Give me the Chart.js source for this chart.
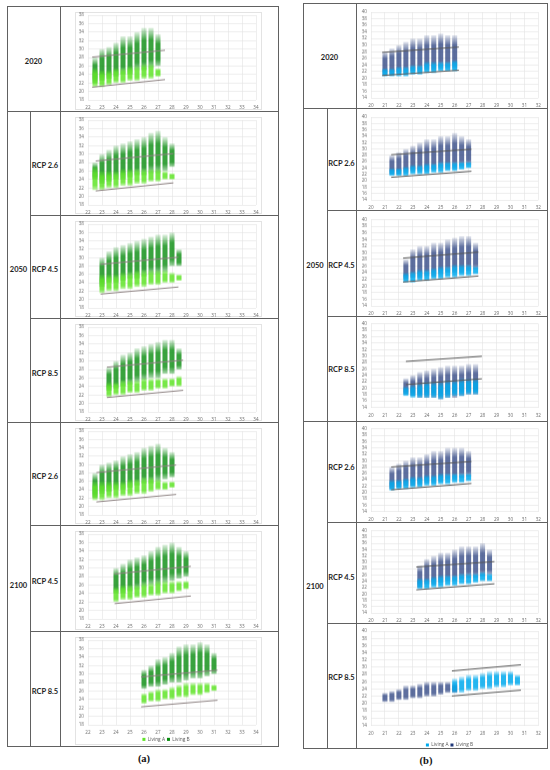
<!DOCTYPE html>
<html>
<head>
<meta charset="utf-8">
<script src="https://cdn.jsdelivr.net/npm/chart.js@4.4.1/dist/chart.umd.min.js"></script>
<style>
html, body { margin: 0; padding: 0; background: #fff; }
#page { position: relative; width: 550px; height: 770px; overflow: hidden; font-family: Lato, "Open Sans", sans-serif; }
.ln { position: absolute; background: #616161; }
.lbl { position: absolute; transform: translate(-50%, -50%); font-weight: 700; font-size: 7.5px; color: #1e1e1e; white-space: nowrap; }
.cap { position: absolute; transform: translate(-50%, -50%); font-family: "Liberation Serif", serif; font-weight: 700; font-size: 10.5px; color: #111; }
.box { position: absolute; border: 1px solid #e3e3e3; box-sizing: border-box; }
canvas { position: absolute; }
</style>
</head>
<body>
<div id="page"></div>
<script>
// labels
const years = ['2020', '2050', '2100'];
const scenarios = ['RCP 2.6', 'RCP 4.5', 'RCP 8.5'];
const seriesNames = ['Living A', 'Living B'];

// axis ticks
const aXTicks = [22, 23, 24, 25, 26, 27, 28, 29, 30, 31, 32, 33, 34];
const aYTicks = [18, 20, 22, 24, 26, 28, 30, 32, 34, 36, 38];
const bXTicks = [20, 21, 22, 23, 24, 25, 26, 27, 28, 29, 30, 31, 32];
const bYTicks = [14, 16, 18, 20, 22, 24, 26, 28, 30, 32, 34, 36, 38, 40];

// point clouds: [outdoor temp, lowest indoor, highest indoor]
// comfort limits: [outdoor temp, lower limit, upper limit] at both ends
const a2020A = [[22.5,21,25.5],[23,21,25],[23.5,21.5,25],[24,22,25.5],[24.5,22,25.5],[25,22.5,26],[25.5,22.5,26],[26,23,26.5],[26.5,23,26.5],[27,23.5,25.5]];
const a2020B = [[22.5,22,28],[23,22.5,30],[23.5,23,30.5],[24,23.5,31.5],[24.5,24,33],[25,24,33],[25.5,25,34],[26,25,35],[26.5,25.5,35],[27,26,33.5]];
const a2020Band = [[22.3,21.0,28.1],[27.5,22.8,29.7]];

const a2050r26A = [[22.5,21.5,27],[23,21.5,26],[23.5,22,26],[24,22,26],[24.5,22.5,26.5],[25,22.5,26.5],[25.5,23,26.5],[26,23,26.5],[26.5,23.5,26.5],[27,23.5,26.5],[27.5,24,26],[28,24,25.5]];
const a2050r26B = [[22.5,24,28],[23,23,30],[23.5,23.5,31],[24,24,32],[24.5,24,32.5],[25,24.5,33],[25.5,25,33.5],[26,25,34],[26.5,25.5,35],[27,25.5,35.5],[27.5,26,34],[28,27,32.5]];
const a2050r26Band = [[22.55,21.3,28.35],[28.1,23.2,30.1]];

const a2050r45A = [[23,21.5,26],[23.5,22,26],[24,22,26],[24.5,22.5,26.5],[25,22.5,26.5],[25.5,23,27],[26,23,27],[26.5,23.5,27],[27,23.5,27],[27.5,24,27],[28,24,26.5],[28.5,24.5,26]];
const a2050r45B = [[23,23,30],[23.5,24,31.5],[24,24,32.5],[24.5,24.5,33],[25,25,33.5],[25.5,25,34],[26,25.5,34.5],[26.5,26,35],[27,26,35.5],[27.5,26.5,35.5],[28,28,36],[28.5,28,32]];
const a2050r45Band = [[22.9,21.3,28.4],[28.46,23.0,30.1]];

const a2050r85A = [[23.5,21.5,25],[24,22,25],[24.5,22,25.5],[25,22.5,25.5],[25.5,22.5,25.5],[26,23,26],[26.5,23,26],[27,23.5,26],[27.5,23.5,26],[28,24,26],[28.5,24,26.5]];
const a2050r85B = [[23.5,23,28.5],[24,23.5,30],[24.5,24,31.5],[25,24.5,32],[25.5,25,33],[26,25.5,33.5],[26.5,26,34],[27,26,34.5],[27.5,27,35],[28,27,35],[28.5,28,33]];
const a2050r85Band = [[23.35,21.4,28.55],[28.8,23.1,30.2]];

const a2100r26A = [[22.5,21.5,26],[23,21.5,26],[23.5,22,26],[24,22,26],[24.5,22.5,26],[25,22.5,26.5],[25.5,23,26.5],[26,23,27],[26.5,23.5,27],[27,24,26.5],[27.5,24,26],[28,24.5,26]];
const a2100r26B = [[22.5,22,28],[23,23,30],[23.5,23.5,30.5],[24,24,31],[24.5,24,32],[25,24.5,32.5],[25.5,25,33],[26,25.5,34],[26.5,25.5,34.5],[27,26,35],[27.5,26.5,34],[28,27,33]];
const a2100r26Band = [[22.6,21.1,28.1],[28.3,22.9,29.9]];

const a2100r45A = [[24,22,25.5],[24.5,22.5,26],[25,22.5,26],[25.5,23,26],[26,23,26.5],[26.5,23.5,26.5],[27,23.5,27],[27.5,24,27],[28,24,27],[28.5,24.5,27],[29,25,27]];
const a2100r45B = [[24,24,30],[24.5,24,31],[25,24.5,32],[25.5,25,32.5],[26,25.5,33],[26.5,26,34],[27,26,35],[27.5,26.5,35.5],[28,27,36],[28.5,27.5,35],[29,28,34]];
const a2100r45Band = [[23.9,21.6,28.6],[29.35,23.4,30.4]];

const a2100r85A = [[26,23,25.5],[26.5,23.5,26],[27,23.5,26.5],[27.5,24,26.5],[28,24,27],[28.5,24.5,27.5],[29,24.5,28],[29.5,25,28],[30,25,28],[30.5,25.5,28],[31,26,27.5]];
const a2100r85B = [[26,26.5,31],[26.5,27,32],[27,27,33.5],[27.5,27.5,34],[28,28,35],[28.5,28,36.5],[29,28.5,37],[29.5,29,37],[30,29,37.5],[30.5,29.5,37],[31,30,35]];
const a2100r85Band = [[25.8,22.25,29.3],[31.25,23.8,30.9]];

const b2020A = [[21,20.5,23],[21.5,20.5,23],[22,20.5,23.5],[22.5,20.5,23.5],[23,21,24],[23.5,21,24],[24,21.5,25],[24.5,21.5,25],[25,22,25],[25.5,22,25],[26,22,25.5]];
const b2020B = [[21,21,28],[21.5,21,29],[22,21.5,30],[22.5,21.5,31],[23,22,32],[23.5,22,32],[24,22.5,33],[24.5,22.5,33],[25,23,33.5],[25.5,23,33],[26,23,33]];
const b2020Band = [[20.8,20.8,27.8],[26.3,22.4,29.4]];

const b2050r26A = [[21.5,21.5,24],[22,21.5,24],[22.5,21.5,24.5],[23,22,25],[23.5,22,25],[24,22,25.5],[24.5,22.5,25.5],[25,22.5,26],[25.5,23,26],[26,23,26],[26.5,23.5,26],[27,24,26]];
const b2050r26B = [[21.5,22,28],[22,22,29],[22.5,22.5,30],[23,23,31],[23.5,23,32],[24,23,33],[24.5,23.5,33],[25,24,34],[25.5,24,34],[26,24,35],[26.5,24.5,34],[27,25,33]];
const b2050r26Band = [[21.45,21.1,28.2],[27.2,23.0,29.9]];

const b2050r45A = [[22.5,21,24],[23,21,24.5],[23.5,21.5,25],[24,21.5,25],[24.5,22,25.5],[25,22,26],[25.5,22.5,26],[26,22.5,26.5],[26.5,23,26.5],[27,23,26.5],[27.5,23.5,26]];
const b2050r45B = [[22.5,22,28],[23,22.5,31],[23.5,22.5,32],[24,23,32],[24.5,23,33],[25,23.5,33],[25.5,24,34],[26,24,34.5],[26.5,24,35],[27,24.5,35],[27.5,25,33]];
const b2050r45Band = [[22.3,21.2,28.4],[27.7,23.0,30.2]];

const b2050r85A = [[22.5,17.5,20.5],[23,17,21],[23.5,17,21.5],[24,17,22],[24.5,17,22],[25,16.5,22],[25.5,17,22.5],[26,17.5,22.5],[26.5,17.5,23],[27,18,23],[27.5,18,23]];
const b2050r85B = [[22.5,18,23],[23,17.5,24],[23.5,17,25],[24,17,25.5],[24.5,17,26],[25,16.5,26.5],[25.5,17,27],[26,17,27],[26.5,17.5,27],[27,18,27.5],[27.5,18,27.5]];
const b2050r85Band = [[22.5,21.1,28.3],[27.95,22.9,29.9]];

const b2100r26A = [[21.5,20.5,24],[22,21,24],[22.5,21,24.5],[23,21.5,25],[23.5,21.5,25],[24,22,25.5],[24.5,22,25.5],[25,22.5,26],[25.5,22.5,26],[26,23,26],[26.5,23,26],[27,23.5,26]];
const b2100r26B = [[21.5,21,28],[22,21.5,29],[22.5,22,30],[23,22,31],[23.5,22.5,31],[24,23,32],[24.5,23,33],[25,23.5,33],[25.5,24,34],[26,24,34],[26.5,24.5,34],[27,25,33]];
const b2100r26Band = [[21.45,20.8,28.0],[27.2,22.8,29.7]];

const b2100r45A = [[23.5,21.5,25],[24,21.5,25],[24.5,22,25.5],[25,22,26],[25.5,22.5,26],[26,22.5,26],[26.5,23,26.5],[27,23,26.5],[27.5,23.5,26.5],[28,24,27],[28.5,24,26.5]];
const b2100r45B = [[23.5,22,29],[24,23,31],[24.5,23,32],[25,23.5,33],[25.5,24,33],[26,24,34],[26.5,24.5,35],[27,25,35],[27.5,25,35],[28,25.5,36],[28.5,26,34]];
const b2100r45Band = [[23.25,21.3,28.5],[28.85,23.2,30.2]];

const b2100r85A = [[26,23,27],[26.5,23,27.5],[27,23.5,28],[27.5,23.5,28],[28,24,28.5],[28.5,24,29],[29,24.5,29],[29.5,24.5,29],[30,25,29],[30.5,25,28]];
const b2100r85B = [[21,20.5,23],[21.5,20.5,23.5],[22,21,24],[22.5,21,25],[23,21.5,25],[23.5,21.5,25.5],[24,22,26],[24.5,22,26],[25,22.5,26],[25.5,23,26],[26,23,25.5]];
const b2100r85Band = [[25.8,22.1,29.0],[30.75,23.7,30.7]];

// ---- layout ----
const page = document.getElementById('page');

function el(cls, x, y, w, h, text) {
    const d = document.createElement('div');
    d.className = cls;
    d.style.left = x + 'px';
    d.style.top = y + 'px';
    if (w !== null) d.style.width = w + 'px';
    if (h !== null) d.style.height = h + 'px';
    if (text) d.textContent = text;
    page.appendChild(d);
    return d;
}
function hLine(x1, x2, y) { el('ln', x1, y, x2 - x1 + 1, 1); }
function vLine(x, y1, y2) { el('ln', x, y1, 1, y2 - y1 + 1); }

// panel (a) table
vLine(7, 6, 746); vLine(278, 6, 746); hLine(7, 278, 6); hLine(7, 278, 746);
vLine(60, 6, 746); vLine(30, 111, 746);
hLine(7, 278, 111); hLine(7, 278, 422);
[215, 318, 525, 631].forEach(y => hLine(30, 278, y));

// panel (b) table
vLine(303, 3, 748); vLine(547, 3, 748); hLine(303, 547, 3); hLine(303, 547, 748);
vLine(356, 3, 748); vLine(327, 108, 748);
hLine(303, 547, 108); hLine(303, 547, 421);
[210, 316, 522, 623].forEach(y => hLine(327, 547, y));

// row labels
el('lbl', 33.5, 61, null, null, years[0]);
el('lbl', 18.5, 269, null, null, years[1]);
el('lbl', 18.5, 585, null, null, years[2]);
[165, 269, 372.5, 476, 580.5, 691].forEach((y, i) => el('lbl', 45, y, null, null, scenarios[i % 3]));

el('lbl', 329.5, 57, null, null, years[0]);
el('lbl', 315, 265, null, null, years[1]);
el('lbl', 315, 586, null, null, years[2]);
[162.5, 265, 369, 467, 576.5, 677].forEach((y, i) => el('lbl', 341.5, y, null, null, scenarios[i % 3]));

el('cap', 144, 757.5, null, null, '(a)');
el('cap', 426, 760, null, null, '(b)');

const greenA = '96,228,40', greenB = '8,140,14';
const blueA = '0,170,238', blueB = '32,56,122';

// vertical fade inside each column: sparse tips, dense core
function cloudFill(rgb, peak) {
    return c => {
        if (c.type !== 'data' || !c.chart.chartArea || !c.parsed || !c.parsed._custom) return `rgba(${rgb},${peak})`;
        const v = c.parsed._custom;
        const ys = c.chart.scales.y;
        const top = ys.getPixelForValue(v.max), bot = ys.getPixelForValue(v.min);
        const g = c.chart.ctx.createLinearGradient(0, top, 0, bot);
        g.addColorStop(0, `rgba(${rgb},0.12)`);
        g.addColorStop(0.3, `rgba(${rgb},${peak})`);
        g.addColorStop(0.8, `rgba(${rgb},${peak})`);
        g.addColorStop(1, `rgba(${rgb},0.35)`);
        return g;
    };
}

function makeChart(p) {
    const [cl, ct, cw, ch] = p.cell;
    const cv = document.createElement('canvas');
    cv.width = cw; cv.height = ch;
    cv.style.left = cl + 'px'; cv.style.top = ct + 'px';
    cv.style.width = cw + 'px'; cv.style.height = ch + 'px';
    page.appendChild(cv);

    const yW = 12;
    const legH = p.legend ? (ct + ch - p.plotB - p.xH) : 0;
    const pad = {
        left: p.plotL - cl - yW,
        right: cl + cw - p.plotR,
        top: p.plotT - ct,
        bottom: p.legend ? 0 : Math.max(0, ct + ch - p.plotB - p.xH)
    };
    const toBars = rows => rows.map(r => ({ x: r[0], y: [r[1], r[2]] }));
    const lower = p.band.map(r => ({ x: r[0], y: r[1] }));
    const upper = p.band.map(r => ({ x: r[0], y: r[2] }));
    const solid = [`rgb(${p.colA})`, `rgb(${p.colB})`];
    const tickFont = { family: '"Open Sans", sans-serif', size: 4.6 };

    new Chart(cv, {
        type: 'bar',
        data: {
            datasets: [
                { type: 'line', label: '', data: lower, borderColor: p.lineColor, borderWidth: 1, pointRadius: 0, order: 0 },
                { type: 'line', label: '', data: upper, borderColor: p.lineColor, borderWidth: 1, pointRadius: 0, order: 0 },
                { label: seriesNames[0], data: toBars(p.A), backgroundColor: cloudFill(p.colA, p.peakA), grouped: false,
                  barPercentage: 0.72, categoryPercentage: 1, order: 1 },
                { label: seriesNames[1], data: toBars(p.B), backgroundColor: cloudFill(p.colB, p.peakB), grouped: false,
                  barPercentage: 0.72, categoryPercentage: 1, order: 2 }
            ]
        },
        options: {
            responsive: false,
            animation: false,
            layout: { padding: pad },
            plugins: {
                tooltip: { enabled: false },
                legend: {
                    display: !!p.legend,
                    position: 'bottom',
                    maxHeight: legH,
                    labels: {
                        font: { family: '"Open Sans", sans-serif', size: 4.8 },
                        color: '#555',
                        boxWidth: 3,
                        boxHeight: 3,
                        padding: 2,
                        generateLabels: chart => Chart.defaults.plugins.legend.labels.generateLabels(chart)
                            .filter(l => l.text)
                            .map(l => Object.assign(l, { fillStyle: solid[l.datasetIndex - 2], strokeStyle: solid[l.datasetIndex - 2], lineWidth: 0 }))
                    }
                }
            },
            scales: {
                x: {
                    type: 'linear',
                    offset: false,
                    min: p.xTicks[0],
                    max: p.xTicks[p.xTicks.length - 1],
                    afterFit: s => { s.height = p.xH; },
                    afterBuildTicks: s => { s.ticks = p.xTicks.map(v => ({ value: v })); },
                    ticks: { font: tickFont, color: '#6a6a6a', padding: 5, autoSkip: false, maxRotation: 0 },
                    grid: { color: '#e2e2e2', lineWidth: 0.6, drawTicks: false, offset: false },
                    border: { display: false }
                },
                y: {
                    min: p.yTicks[0],
                    max: p.yTicks[p.yTicks.length - 1],
                    afterFit: s => { s.width = yW; },
                    afterBuildTicks: s => { s.ticks = p.yTicks.map(v => ({ value: v })); },
                    ticks: { font: tickFont, color: '#6a6a6a', padding: 4, autoSkip: false },
                    grid: { color: '#e2e2e2', lineWidth: 0.6, drawTicks: false },
                    border: { display: false }
                }
            }
        }
    });
}

// panel (a) charts
const rowsA = [[6, 111], [111, 215], [215, 318], [318, 422], [422, 525], [525, 631], [631, 746]];
const dataA = [
    [a2020A, a2020B, a2020Band],
    [a2050r26A, a2050r26B, a2050r26Band],
    [a2050r45A, a2050r45B, a2050r45Band],
    [a2050r85A, a2050r85B, a2050r85Band],
    [a2100r26A, a2100r26B, a2100r26Band],
    [a2100r45A, a2100r45B, a2100r45Band],
    [a2100r85A, a2100r85B, a2100r85Band]
];
rowsA.forEach(([t, b], i) => {
    el('box', 75, t + 6, 187, b - t - 7);
    const last = i === rowsA.length - 1;
    makeChart({
        cell: [61, t + 1, 216, b - t - 1.5],
        plotL: 88, plotR: 256, plotT: t + 9, plotB: t + 9 + 84.5,
        xH: 10, legend: last,
        A: dataA[i][0], B: dataA[i][1], band: dataA[i][2],
        xTicks: aXTicks, yTicks: aYTicks,
        colA: greenA, colB: greenB, peakA: 0.85, peakB: 0.8, lineColor: '#8c8080'
    });
});

// panel (b) charts
const rowsB = [[3, 108], [108, 210], [210, 316], [316, 421], [421, 522], [522, 623], [623, 748]];
const plotTopB = [12, 117, 219.5, 322, 425, 530.5, 631];
const plotHB = [86, 86, 86, 85, 86, 86, 94];
const dataB = [
    [b2020A, b2020B, b2020Band],
    [b2050r26A, b2050r26B, b2050r26Band],
    [b2050r45A, b2050r45B, b2050r45Band],
    [b2050r85A, b2050r85B, b2050r85Band],
    [b2100r26A, b2100r26B, b2100r26Band],
    [b2100r45A, b2100r45B, b2100r45Band],
    [b2100r85A, b2100r85B, b2100r85Band]
];
rowsB.forEach(([t, b], i) => {
    const last = i === rowsB.length - 1;
    makeChart({
        cell: [357, t + 1, 189, b - t - 1.5],
        plotL: 371, plotR: 540, plotT: plotTopB[i], plotB: plotTopB[i] + plotHB[i],
        xH: last ? 15 : 10, legend: last,
        A: dataB[i][0], B: dataB[i][1], band: dataB[i][2],
        xTicks: bXTicks, yTicks: bYTicks,
        colA: blueA, colB: blueB, peakA: 0.85, peakB: 0.72, lineColor: '#555555'
    });
});
</script>
</body>
</html>
